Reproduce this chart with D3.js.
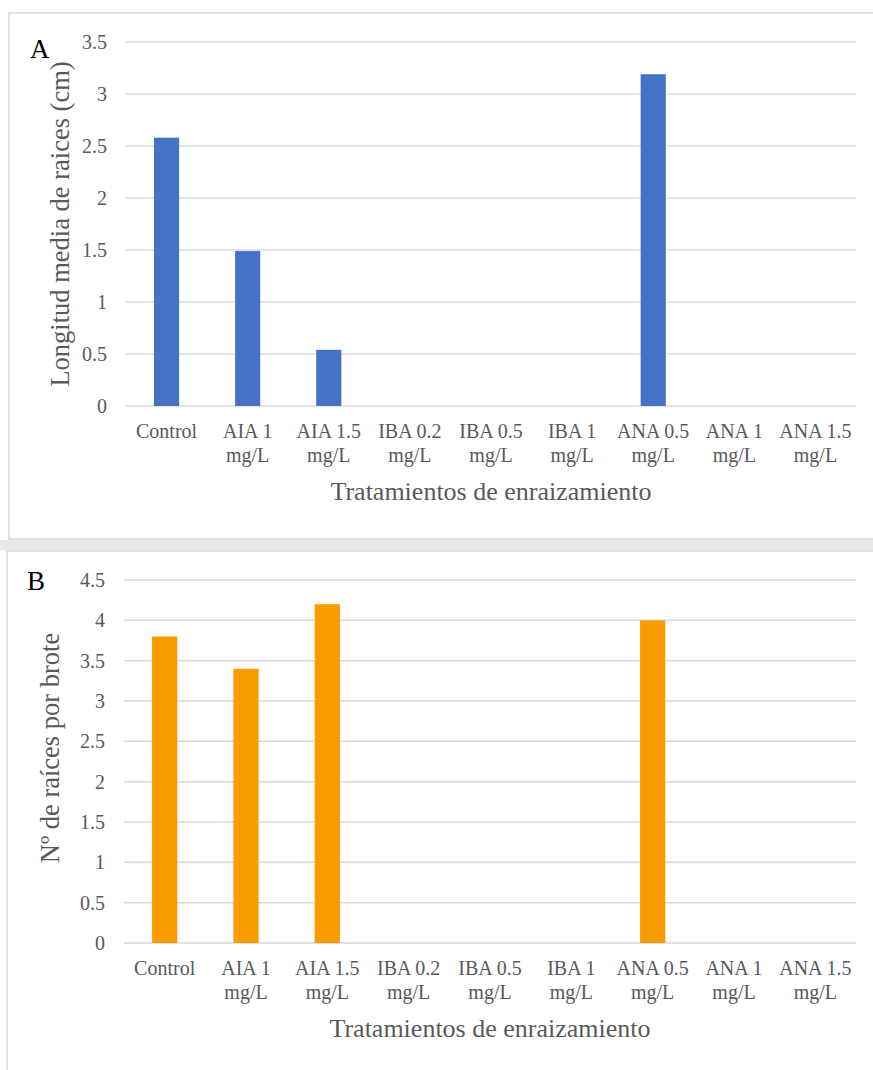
<!DOCTYPE html>
<html>
<head>
<meta charset="utf-8">
<script src="https://d3js.org/d3.v7.min.js"></script>
</head>
<body style="margin: 0; background: #fff;">
<script>
// categories (two-line tick labels)
var categories = ["Control", "AIA 1 mg/L", "AIA 1.5 mg/L", "IBA 0.2 mg/L", "IBA 0.5 mg/L",
                  "IBA 1 mg/L", "ANA 0.5 mg/L", "ANA 1 mg/L", "ANA 1.5 mg/L"];
var tickLines = [["Control"], ["AIA 1", "mg/L"], ["AIA 1.5", "mg/L"], ["IBA 0.2", "mg/L"], ["IBA 0.5", "mg/L"],
                 ["IBA 1", "mg/L"], ["ANA 0.5", "mg/L"], ["ANA 1", "mg/L"], ["ANA 1.5", "mg/L"]];

// series A: longitud media de raices (cm)
var longitud = [2.58, 1.49, 0.54, 0, 0, 0, 3.19, 0, 0];
// series B: numero de raices por brote
var numRaices = [3.8, 3.4, 4.2, 0, 0, 0, 4.0, 0, 0];

var ticksA = [0, 0.5, 1, 1.5, 2, 2.5, 3, 3.5];
var ticksB = [0, 0.5, 1, 1.5, 2, 2.5, 3, 3.5, 4, 4.5];

var FONT = "Liberation Serif";
var GREY = "#595959";

var svg = d3.select("body").append("svg")
    .attr("width", 873)
    .attr("height", 1070)
    .attr("font-family", FONT);

// faint strip between panels
svg.append("rect")
    .attr("x", 0).attr("y", 540).attr("width", 873).attr("height", 10)
    .attr("fill", "#e6e9e5");

function drawPanel(opt) {
    var g = svg.append("g");

    // panel frame
    g.append("rect")
        .attr("x", opt.frame[0]).attr("y", opt.frame[1])
        .attr("width", opt.frame[2]).attr("height", opt.frame[3])
        .attr("fill", "#fff")
        .attr("stroke", "#d9d9d9")
        .attr("stroke-width", 1.5);

    var x = d3.scaleBand()
        .domain(categories)
        .range([opt.left, opt.right])
        .paddingInner(0.69)
        .paddingOuter(0.345);

    var y = d3.scaleLinear()
        .domain([0, opt.max])
        .range([opt.bottom, opt.top]);

    // gridlines
    g.selectAll(".grid")
        .data(opt.ticks)
        .enter().append("line")
        .attr("x1", opt.left).attr("x2", opt.right)
        .attr("y1", function(d) { return y(d); })
        .attr("y2", function(d) { return y(d); })
        .attr("stroke", "#d9d9d9")
        .attr("stroke-width", 1.5);

    // y tick labels
    g.selectAll(".ytick")
        .data(opt.ticks)
        .enter().append("text")
        .attr("x", opt.left - 19)
        .attr("y", function(d) { return y(d) + 7; })
        .attr("text-anchor", "end")
        .attr("font-family", FONT)
        .attr("font-size", 20)
        .attr("fill", GREY)
        .text(function(d) { return d; });

    // bars
    g.selectAll(".bar")
        .data(opt.values)
        .enter().append("rect")
        .attr("x", function(d, i) { return x(categories[i]); })
        .attr("width", x.bandwidth())
        .attr("y", function(d) { return y(d); })
        .attr("height", function(d) { return y(0) - y(d); })
        .attr("fill", opt.color);

    // x tick labels
    var xt = g.selectAll(".xtick")
        .data(tickLines)
        .enter().append("text")
        .attr("text-anchor", "middle")
        .attr("font-family", FONT)
        .attr("font-size", 20)
        .attr("fill", GREY);
    xt.selectAll("tspan")
        .data(function(d, i) { return d.map(function(s) { return {s: s, i: i}; }); })
        .enter().append("tspan")
        .attr("x", function(d) { return x(categories[d.i]) + x.bandwidth() / 2; })
        .attr("y", function(d, j) { return opt.bottom + 32 + j * 24; })
        .text(function(d) { return d.s; });

    // x axis title
    g.append("text")
        .attr("x", (opt.left + opt.right) / 2)
        .attr("y", opt.bottom + 94)
        .attr("text-anchor", "middle")
        .attr("font-family", FONT)
        .attr("font-size", 26)
        .attr("fill", GREY)
        .text("Tratamientos de enraizamiento");

    // y axis title
    g.append("text")
        .attr("transform", "translate(" + opt.ytitlePos[0] + "," + opt.ytitlePos[1] + ") rotate(-90)")
        .attr("text-anchor", "middle")
        .attr("font-family", FONT)
        .attr("font-size", 26.5)
        .attr("fill", GREY)
        .text(opt.ytitle);

    // panel letter
    g.append("text")
        .attr("x", opt.letterPos[0]).attr("y", opt.letterPos[1])
        .attr("font-family", FONT)
        .attr("font-size", 27)
        .attr("fill", "#000")
        .text(opt.letter);
}

drawPanel({
    frame: [9, 13, 880, 526],
    left: 126, right: 856, top: 42, bottom: 406, max: 3.5,
    ticks: ticksA, values: longitud, color: "#4472c4",
    ytitle: "Longitud media de raices (cm)", ytitlePos: [69, 224],
    letter: "A", letterPos: [30, 58]
});

drawPanel({
    frame: [7, 551, 880, 530],
    left: 124, right: 856, top: 580, bottom: 943, max: 4.5,
    ticks: ticksB, values: numRaices, color: "#f99c00",
    ytitle: "Nº de raíces por brote", ytitlePos: [59, 748],
    letter: "B", letterPos: [27, 590]
});
</script>
</body>
</html>
